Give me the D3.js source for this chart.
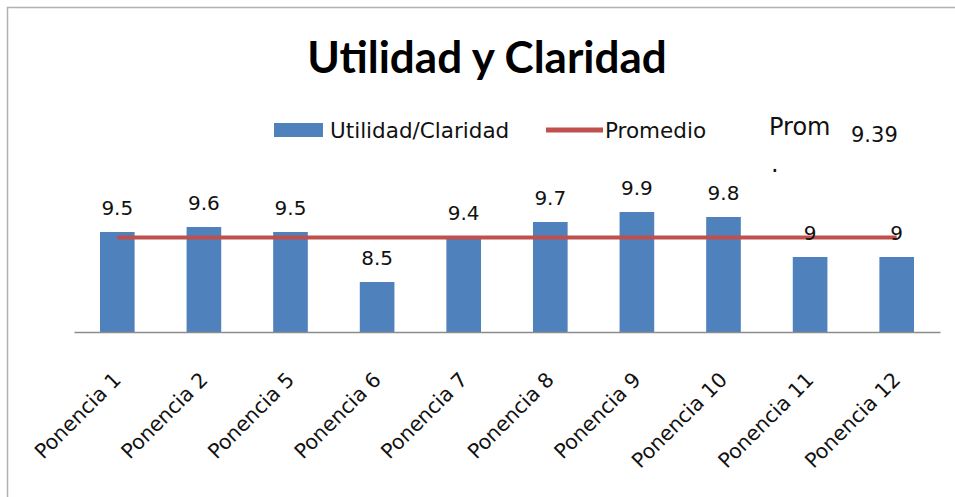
<!DOCTYPE html>
<html>
<head>
<meta charset="utf-8">
<script src="https://cdn.jsdelivr.net/npm/d3@7/dist/d3.min.js"></script>
<style>
  body { margin: 0; background: #fff; }
  svg { display: block; }
</style>
</head>
<body>
<script>
// datos
var ponencias = ["Ponencia 1", "Ponencia 2", "Ponencia 5", "Ponencia 6", "Ponencia 7",
                 "Ponencia 8", "Ponencia 9", "Ponencia 10", "Ponencia 11", "Ponencia 12"];
var utilidad = [9.5, 9.6, 9.5, 8.5, 9.4, 9.7, 9.9, 9.8, 9, 9];
var promedio = [9.39, 9.39, 9.39, 9.39, 9.39, 9.39, 9.39, 9.39, 9.39, 9.39];
var promTexto = "9.39";

var W = 955, H = 497;
var azul = "#4f81bd", rojo = "#c0504d";
var fuente = "'DejaVu Sans', Verdana, sans-serif";

var svg = d3.select("body").append("svg")
    .attr("width", W)
    .attr("height", H);

// borde del area del grafico
svg.append("rect")
    .attr("x", 7.5).attr("y", 7.5)
    .attr("width", 1000).attr("height", 600)
    .attr("fill", "none")
    .attr("stroke", "#b4b0b4")
    .attr("stroke-width", 1.5);

var x = d3.scaleBand().domain(ponencias).range([74, 940]);
var y = d3.scaleLinear().domain([7.5, 10]).range([332, 207]);
var bw = x.bandwidth() * 0.4;

// titulo
svg.append("text")
    .attr("x", 487).attr("y", 73)
    .attr("text-anchor", "middle")
    .style("font-family", "Lato, 'Open Sans', sans-serif")
    .style("font-weight", "bold")
    .style("font-size", "44px")
    .text("Utilidad y Claridad");

// barras
svg.selectAll("rect.barra")
    .data(utilidad)
    .enter()
    .append("rect")
    .attr("class", "barra")
    .attr("x", function(d, i) { return x(ponencias[i]) + x.bandwidth() / 2 - bw / 2 })
    .attr("y", function(d) { return y(d) })
    .attr("width", bw)
    .attr("height", function(d) { return y.range()[0] - y(d) })
    .attr("fill", azul);

// eje x
var eje = svg.append("g")
    .attr("transform", "translate(0," + y.range()[0] + ")")
    .call(d3.axisBottom(x).tickSize(0).tickSizeOuter(0));
eje.select(".domain")
    .attr("stroke", "#8c8c8c")
    .attr("stroke-width", 1.5);
eje.selectAll("text")
    .attr("x", 0).attr("y", 0).attr("dy", 0)
    .attr("text-anchor", "end")
    .attr("transform", "translate(5,49) rotate(-45)")
    .attr("fill", "#111")
    .style("font-family", fuente)
    .style("font-size", "20.5px");

// linea del promedio
var linea = d3.line()
    .x(function(d, i) { return x(ponencias[i]) + x.bandwidth() / 2 })
    .y(function(d) { return y(d) });
svg.append("path")
    .datum(promedio)
    .attr("d", linea)
    .attr("fill", "none")
    .attr("stroke", rojo)
    .attr("stroke-width", 4);

// etiquetas de datos
svg.selectAll("text.etiqueta")
    .data(utilidad)
    .enter()
    .append("text")
    .attr("class", "etiqueta")
    .attr("x", function(d, i) { return x(ponencias[i]) + x.bandwidth() / 2 })
    .attr("y", function(d) { return y(d) - 17 })
    .attr("text-anchor", "middle")
    .style("font-family", fuente)
    .style("font-size", "20px")
    .attr("fill", "#111")
    .text(function(d) { return d });

// leyenda
var ley = svg.append("g").style("font-family", fuente).style("font-size", "21.5px");
ley.append("rect")
    .attr("x", 274).attr("y", 123)
    .attr("width", 49).attr("height", 14)
    .attr("fill", azul);
ley.append("text").attr("x", 330).attr("y", 138).attr("fill", "#111").text("Utilidad/Claridad");
ley.append("line")
    .attr("x1", 546).attr("x2", 603)
    .attr("y1", 130).attr("y2", 130)
    .attr("stroke", rojo)
    .attr("stroke-width", 5);
ley.append("text").attr("x", 605).attr("y", 138).attr("fill", "#111").text("Promedio");

// cuadro de texto del promedio
var prom = svg.append("g").style("font-family", fuente).attr("fill", "#111");
prom.append("text").attr("x", 769).attr("y", 135).style("font-size", "24px").text("Prom");
prom.append("text").attr("x", 771).attr("y", 172).style("font-size", "24px").text(".");
prom.append("text").attr("x", 851).attr("y", 142).style("font-size", "21px").text(promTexto);
</script>
</body>
</html>
